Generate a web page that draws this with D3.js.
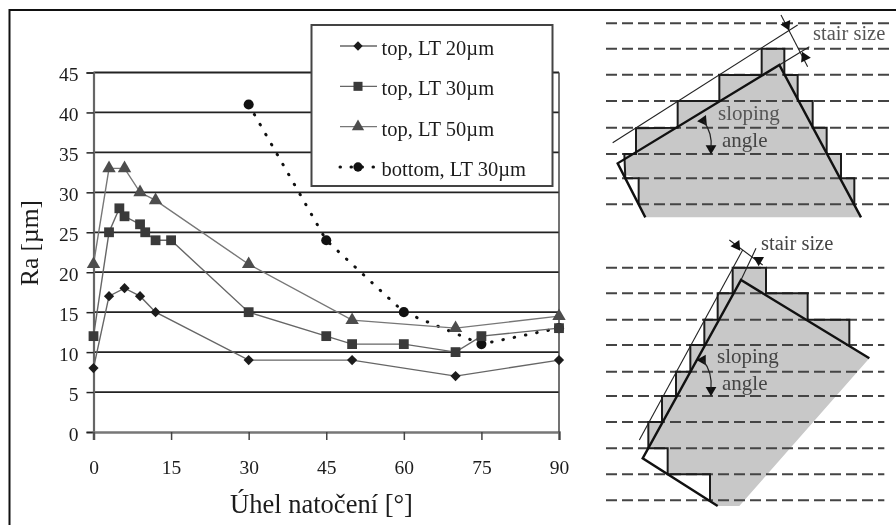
<!DOCTYPE html>
<html>
<head>
<meta charset="utf-8">
<script src="https://cdn.jsdelivr.net/npm/d3@7"></script>
<style>
  html, body { margin: 0; background: #fff; }
  svg { display: block; filter: blur(0.6px); }
  text { font-family: "Liberation Serif", serif; fill: #1c1c1c; }
</style>
</head>
<body>
<div id="chart"></div>
<script>
// values
const angle20 = [0, 3, 6, 9, 12, 30, 50, 70, 90];
const ra20 = [8, 17, 18, 17, 15, 9, 9, 7, 9];
const angle30 = [0, 3, 5, 6, 9, 10, 12, 15, 30, 45, 50, 60, 70, 75, 90];
const ra30 = [12, 25, 28, 27, 26, 25, 24, 24, 15, 12, 11, 11, 10, 12, 13];
const angle50 = [0, 3, 6, 9, 12, 30, 50, 70, 90];
const ra50 = [21, 33, 33, 30, 29, 21, 14, 13, 14.5];
const angleBottom = [30, 45, 60, 75, 90];
const raBottom = [41, 24, 15, 11, 13];

const legendLabels = ["top, LT 20µm", "top, LT 30µm", "top, LT 50µm", "bottom, LT 30µm"];
const xTicks = [0, 15, 30, 45, 60, 75, 90];
const yTicks = [0, 5, 10, 15, 20, 25, 30, 35, 40, 45];
const xTitle = "Úhel natočení [°]";
const yTitle = "Ra [µm]";

// schematics on the right, in their own sketch units
const topLevels = [70, 146, 224, 303, 383, 462, 535, 613];
const topFill = [[85, 465], [120, 462], [120, 385], [245, 383], [245, 303], [370, 303], [370, 225], [497, 225], [497, 146], [565, 146], [565, 225], [605, 225], [605, 303], [650, 303], [650, 383], [692, 383], [692, 462], [735, 462], [735, 535], [775, 535], [775, 613], [795, 652], [148, 652], [128, 613], [128, 535], [88, 525]];
const topStairs = [[128, 613], [128, 535], [88, 535], [85, 462], [120, 462], [120, 385], [245, 383], [245, 303], [370, 303], [370, 225], [497, 225], [497, 146], [565, 146], [565, 225], [605, 225], [605, 303], [650, 303], [650, 383], [692, 383], [692, 462], [735, 462], [735, 535], [775, 535], [775, 613]];
const topOutline = [[148, 652], [65, 490], [550, 195], [795, 652]];
const topGuides = [[[50, 428], [605, 75]], [[550, 195], [640, 140]], [[555, 45], [635, 200]]];

const lowLevels = [128, 205, 284, 360, 440, 513, 591, 670, 748, 826];
const lowFill = [[157, 670], [157, 591], [198, 591], [198, 513], [240, 513], [240, 440], [283, 440], [283, 360], [325, 360], [325, 284], [365, 284], [365, 205], [410, 205], [410, 128], [510, 128], [510, 205], [635, 205], [635, 284], [760, 284], [760, 360], [820, 400], [430, 843], [365, 843], [342, 826], [342, 748], [215, 748], [215, 670]];
const lowStairs = [[157, 670], [157, 591], [198, 591], [198, 513], [240, 513], [240, 440], [283, 440], [283, 360], [325, 360], [325, 284], [365, 284], [365, 205], [410, 205], [410, 128], [510, 128], [510, 205], [635, 205], [635, 284], [760, 284], [760, 360]];
const lowSteps = [[157, 670], [215, 670], [215, 748], [342, 748], [342, 826]];
const lowOutline = [[365, 843], [140, 700], [435, 165], [820, 400]];
const lowGuides = [[[130, 645], [440, 75]], [[435, 165], [480, 70]], [[400, 45], [500, 120]]];

const width = 896, height = 525;
const svg = d3.select("#chart").append("svg").attr("width", width).attr("height", height);

const x = d3.scaleLinear().domain([0, 90]).range([93.5, 559]);
const y = d3.scaleLinear().domain([0, 45]).range([432, 72.5]);

// outer frame, open on the right and bottom
svg.append("path")
  .attr("d", d3.line()([[9.5, 525], [9.5, 10], [896, 10]]))
  .attr("fill", "none")
  .attr("stroke", "#111")
  .attr("stroke-width", 2);

const yaxis = d3.axisLeft(y).tickValues(yTicks).tickSize(7).tickPadding(8);
const xaxis = d3.axisBottom(x).tickValues(xTicks).tickSize(8).tickPadding(20);

svg.append("g")
  .selectAll("line")
  .data(yTicks.filter((d) => d > 0))
  .enter()
  .append("line")
  .attr("x1", x(0))
  .attr("x2", x(90))
  .attr("y1", (d) => y(d))
  .attr("y2", (d) => y(d))
  .attr("stroke", "#222")
  .attr("stroke-width", 1.8);

const gy = svg.append("g").attr("transform", `translate(${x(0)},0)`).call(yaxis);
const gx = svg.append("g").attr("transform", `translate(0,${y(0)})`).call(xaxis);
gy.select(".domain").attr("stroke", "#666").attr("stroke-width", 2.2);
gx.select(".domain").attr("stroke", "#777").attr("stroke-width", 2.6);
gy.selectAll(".tick line").attr("stroke", "#222").attr("stroke-width", 1.5);
gx.selectAll(".tick line").attr("stroke", "#444").attr("stroke-width", 1.5);
gy.selectAll(".tick text").attr("dy", "0.42em");
svg.selectAll(".tick text").style("font-family", '"Liberation Serif", serif').style("font-size", "19.5px").attr("fill", "#1c1c1c");

svg.append("line")
  .attr("x1", x(90)).attr("x2", x(90))
  .attr("y1", y(45)).attr("y2", y(0))
  .attr("stroke", "#444")
  .attr("stroke-width", 1.5);

const line = d3.line().x((d) => x(d[0])).y((d) => y(d[1]));

const series = [
  { xs: angleBottom, ys: raBottom, symbol: d3.symbolCircle, size: 80, rotate: 0, stroke: "#111", dash: "0.5 11", width: 3, fill: "#111" },
  { xs: angle20, ys: ra20, symbol: d3.symbolSquare, size: 52, rotate: 45, stroke: "#666", dash: null, width: 1.4, fill: "#1c1c1c" },
  { xs: angle50, ys: ra50, symbol: d3.symbolTriangle, size: 78, rotate: 0, stroke: "#777", dash: null, width: 1.4, fill: "#4d4d4d" },
  { xs: angle30, ys: ra30, symbol: d3.symbolSquare, size: 96, rotate: 0, stroke: "#666", dash: null, width: 1.4, fill: "#3a3a3a" },
];

series.forEach((s) => {
  const pts = d3.zip(s.xs, s.ys);
  svg.append("path")
    .datum(pts)
    .attr("d", line)
    .attr("fill", "none")
    .attr("stroke", s.stroke)
    .attr("stroke-width", s.width)
    .attr("stroke-linecap", s.dash ? "round" : "butt")
    .attr("stroke-dasharray", s.dash);
  svg.append("g")
    .selectAll("path")
    .data(pts)
    .enter()
    .append("path")
    .attr("d", d3.symbol().type(s.symbol).size(s.size))
    .attr("transform", (d) => `translate(${x(d[0])},${y(d[1])}) rotate(${s.rotate})`)
    .attr("fill", s.fill);
});

// axis titles
svg.append("text")
  .attr("x", 321.5)
  .attr("y", 513)
  .attr("text-anchor", "middle")
  .style("font-size", "26.5px")
  .text(xTitle);

svg.append("text")
  .attr("transform", "translate(38,243) rotate(-90)")
  .attr("text-anchor", "middle")
  .style("font-size", "25.5px")
  .text(yTitle);

// legend
svg.append("rect")
  .attr("x", 311.5)
  .attr("y", 25)
  .attr("width", 241)
  .attr("height", 161)
  .attr("fill", "#fff")
  .attr("stroke", "#444")
  .attr("stroke-width", 2);

const legendOrder = [series[1], series[3], series[2], series[0]];
const legendY = d3.scalePoint().domain(legendLabels).range([46, 167]);

legendLabels.forEach((label, i) => {
  const s = legendOrder[i];
  const ly = legendY(label);
  svg.append("line")
    .attr("x1", 340).attr("x2", 377)
    .attr("y1", ly).attr("y2", ly)
    .attr("stroke", s.stroke)
    .attr("stroke-width", s.width)
    .attr("stroke-linecap", s.dash ? "round" : "butt")
    .attr("stroke-dasharray", s.dash ? "0.5 10.5" : null);
  svg.append("path")
    .attr("d", d3.symbol().type(s.symbol).size(s.size * 0.85))
    .attr("transform", `translate(358,${ly}) rotate(${s.rotate})`)
    .attr("fill", s.fill);
  svg.append("text")
    .attr("x", 381.5)
    .attr("y", ly + 9)
    .style("font-size", "20.5px")
    .text(label);
});

// right hand schematics
function sketch(originX, originY, levels, levelEnd, fill, stairs, steps, outline, guides) {
  const sx = d3.scaleLinear().domain([0, 300]).range([originX, originX + 100]);
  const sy = d3.scaleLinear().domain([0, 300]).range([originY, originY + 100]);
  const path = d3.line().x((d) => sx(d[0])).y((d) => sy(d[1]));
  const g = svg.append("g");

  g.append("path").attr("d", path(fill)).attr("fill", "#c8c8c8");

  g.selectAll(".level")
    .data(levels)
    .enter()
    .append("line")
    .attr("class", "level")
    .attr("x1", sx(30))
    .attr("x2", sx(levelEnd))
    .attr("y1", (d) => sy(d))
    .attr("y2", (d) => sy(d))
    .attr("stroke", "#444")
    .attr("stroke-width", 2)
    .attr("stroke-dasharray", "11 5");

  [stairs, steps].filter(Boolean).forEach((p) => {
    g.append("path").attr("d", path(p)).attr("fill", "none").attr("stroke", "#1c1c1c").attr("stroke-width", 2);
  });

  guides.forEach((p) => {
    g.append("path").attr("d", path(p)).attr("fill", "none").attr("stroke", "#222").attr("stroke-width", 1.1);
  });

  g.append("path")
    .attr("d", path(outline))
    .attr("fill", "none")
    .attr("stroke", "#111")
    .attr("stroke-width", 2.4);

  return { sx, sy, g };
}

function arrow(p, x0, y0, rot) {
  p.g.append("path")
    .attr("d", d3.symbol().type(d3.symbolTriangle).size(50))
    .attr("transform", `translate(${p.sx(x0)},${p.sy(y0)}) rotate(${rot})`)
    .attr("fill", "#111");
}

function bend(p, a, c, b) {
  p.g.append("path")
    .attr("d", `M${p.sx(a[0])},${p.sy(a[1])}Q${p.sx(c[0])},${p.sy(c[1])} ${p.sx(b[0])},${p.sy(b[1])}`)
    .attr("fill", "none")
    .attr("stroke", "#222")
    .attr("stroke-width", 1.2);
}

function caption(str, px, py, size, color) {
  svg.append("text")
    .attr("x", px)
    .attr("y", py)
    .style("font-size", size + "px")
    .style("fill", color)
    .text(str);
}

const upper = sketch(596, 0, topLevels, 893, topFill, topStairs, null, topOutline, topGuides);
arrow(upper, 572, 75, 155);
arrow(upper, 626, 172, -25);
arrow(upper, 322, 362, 25);
arrow(upper, 345, 445, 180);
bend(upper, [322, 362], [350, 400], [345, 445]);

const lower = sketch(596, 225, lowLevels, 865, lowFill, lowStairs, lowSteps, lowOutline, lowGuides);
arrow(lower, 422, 62, 145);
arrow(lower, 488, 105, 180);
arrow(lower, 320, 405, 30);
arrow(lower, 345, 495, 180);
bend(lower, [320, 405], [350, 440], [345, 495]);

caption("stair size", 813, 40, 20.5, "#555");
caption("sloping", 718, 120, 21, "#555");
caption("angle", 722, 147, 21, "#444");
caption("stair size", 761, 250, 20.5, "#444");
caption("sloping", 717, 363, 21, "#444");
caption("angle", 722, 390, 21, "#444");
</script>
</body>
</html>
